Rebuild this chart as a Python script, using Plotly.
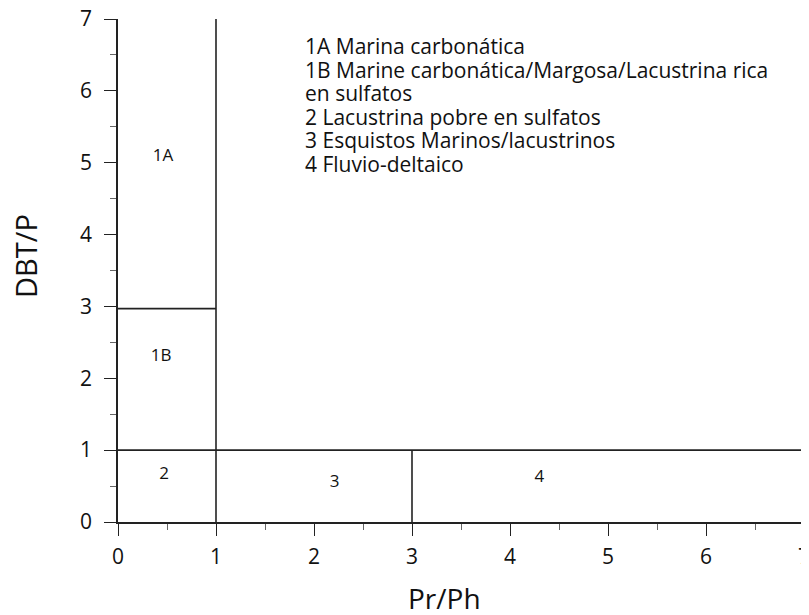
import plotly.graph_objects as go

# Boundary segments (x pairs, y pairs)
seg_x = [[1, 1], [0, 7], [0, 1], [3, 3]]
seg_y = [[0, 7], [1, 1], [2.97, 2.97], [0, 1]]

# Region labels
region_labels = ["1A", "1B", "2", "3", "4"]
region_x = [0.46, 0.44, 0.47, 2.21, 4.3]
region_y = [5.08, 2.3, 0.66, 0.54, 0.61]

legend_lines = [
    "1A Marina carbonática",
    "1B Marine carbonática/Margosa/Lacustrina rica",
    "en sulfatos",
    "2 Lacustrina pobre en sulfatos",
    "3 Esquistos Marinos/lacustrinos",
    "4 Fluvio-deltaico",
]

tick_vals = [0, 1, 2, 3, 4, 5, 6, 7]
tick_text = ["0", "1", "2", "3", "4", "5", "6", "7"]

FONT = "Open Sans"
OFF = 8  # page body margin
W, H = 809 - OFF, 615 - OFF
L, R, T = 118 - OFF, 5, 19 - OFF
B = H - (522 - OFF)


def px(xp):
    return (xp - 118) / (W - L - R)


def py(yp):
    return (522 - yp) / (H - T - B)


fig = go.Figure()
for sx, sy in zip(seg_x, seg_y):
    fig.add_trace(go.Scatter(x=sx, y=sy, mode="lines",
                             line=dict(color="#222", width=1.6),
                             showlegend=False, hoverinfo="skip", cliponaxis=False))

fig.add_trace(go.Scatter(x=region_x, y=region_y, mode="text", text=region_labels,
                         textfont=dict(family=FONT, size=17, color="#111"),
                         showlegend=False, hoverinfo="skip"))

line_centers = [46, 69.6, 93.2, 116.8, 140.4, 164]
for txt, yc in zip(legend_lines, line_centers):
    fig.add_annotation(text=txt, xref="paper", yref="paper",
                       x=px(303), y=py(yc),
                       xanchor="left", yanchor="middle", showarrow=False,
                       font=dict(family=FONT, size=21, color="#111"))

fig.add_annotation(text="Pr/Ph", xref="paper", yref="paper",
                   x=px(444), y=py(598),
                   xanchor="center", yanchor="middle", showarrow=False,
                   font=dict(family=FONT, size=28, color="#111"))
fig.add_annotation(text="DBT/P", xref="paper", yref="paper",
                   x=px(25), y=py(256), textangle=-90,
                   xanchor="center", yanchor="middle", showarrow=False,
                   font=dict(family=FONT, size=29, color="#111"))

axis_common = dict(
    range=[0, 7], tickvals=tick_vals, ticktext=tick_text,
    showgrid=False, zeroline=False, showline=True, linecolor="#222", linewidth=1.6,
    ticks="outside", ticklen=12, tickwidth=1.3, tickcolor="#222",
    tickfont=dict(family=FONT, size=21, color="#111"),
    minor=dict(dtick=0.5, ticks="outside", ticklen=6, tickwidth=1, tickcolor="#666"),
    fixedrange=True, automargin=False, ticklabeloverflow="allow",
)
fig.update_xaxes(**axis_common, ticklabelstandoff=3)
fig.update_yaxes(**axis_common, ticklabelstandoff=8)

fig.update_layout(width=W, height=H, margin=dict(l=L, r=R, t=T, b=B, autoexpand=False),
                  paper_bgcolor="white", plot_bgcolor="white",
                  font=dict(family=FONT))
fig.write_html("out.html")
